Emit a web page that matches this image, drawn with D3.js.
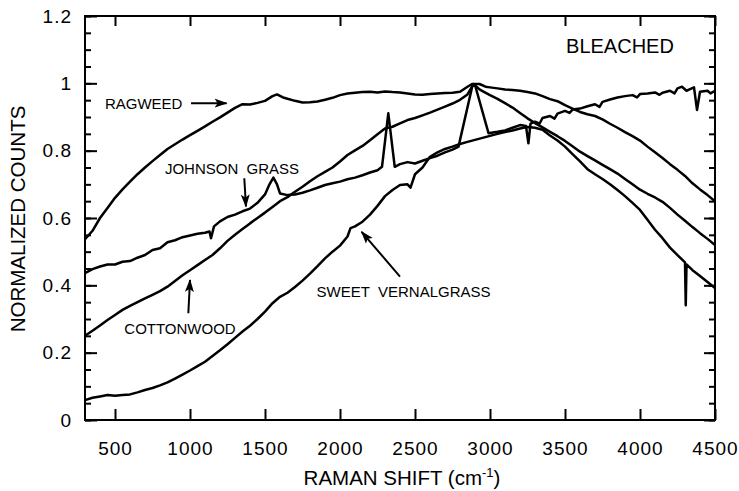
<!DOCTYPE html>
<html><head><meta charset="utf-8">
<script src="https://cdn.jsdelivr.net/npm/d3@7"></script>
<style>
html,body{margin:0;padding:0;background:#fff;}
svg{display:block;font-family:"Liberation Sans",Arial,Helvetica,sans-serif;}
</style></head>
<body><svg id="chart" width="739" height="491"></svg>
<script>
// ---- data (Raman shift in cm-1, normalized counts) ----
const xTicks = [500,1000,1500,2000,2500,3000,3500,4000,4500];
const yTicks = [0,0.2,0.4,0.6,0.8,1,1.2];
const yTickLabels = ["0","0.2","0.4","0.6","0.8","1","1.2"];

const ragweed = [
[300,0.537],[350,0.562],[400,0.600],[450,0.630],[500,0.660],[550,0.685],[600,0.708],[650,0.730],[700,0.750],[750,0.769],
[800,0.787],[850,0.805],[900,0.819],[950,0.833],[1000,0.846],[1050,0.859],[1100,0.872],[1150,0.886],[1200,0.899],[1250,0.913],
[1300,0.927],[1350,0.938],[1400,0.937],[1450,0.942],[1500,0.948],[1550,0.962],[1580,0.967],[1620,0.958],[1650,0.954],[1700,0.948],
[1750,0.943],[1800,0.944],[1850,0.946],[1900,0.951],[1950,0.957],[2000,0.965],[2050,0.970],[2100,0.972],[2150,0.974],[2200,0.975],
[2250,0.973],[2300,0.976],[2350,0.974],[2400,0.973],[2450,0.970],[2500,0.967],[2550,0.966],[2600,0.968],[2650,0.970],[2700,0.971],
[2750,0.972],[2800,0.975],[2850,0.990],[2880,0.998],[2930,0.998],[2970,0.990],[3000,0.988],[3050,0.985],[3100,0.982],[3150,0.980],
[3200,0.978],[3250,0.974],[3300,0.970],[3350,0.962],[3400,0.953],[3450,0.947],[3500,0.935],[3550,0.925],[3600,0.915],[3650,0.908],
[3700,0.903],[3750,0.893],[3800,0.880],[3850,0.868],[3900,0.855],[3950,0.843],[4000,0.830],[4050,0.812],[4100,0.795],[4150,0.778],
[4200,0.760],[4250,0.743],[4300,0.725],[4350,0.703],[4400,0.685],[4450,0.668],[4500,0.650]
];

const cottonwood = [
[300,0.250],[350,0.265],[400,0.281],[450,0.297],[500,0.312],[550,0.327],[600,0.339],[650,0.350],[700,0.361],[750,0.372],
[800,0.383],[850,0.396],[900,0.413],[950,0.430],[1000,0.445],[1050,0.460],[1100,0.475],[1150,0.490],[1200,0.510],[1250,0.532],
[1300,0.550],[1350,0.567],[1400,0.584],[1450,0.600],[1500,0.616],[1550,0.633],[1600,0.650],[1650,0.662],[1700,0.678],[1750,0.693],
[1800,0.709],[1850,0.724],[1900,0.737],[1950,0.750],[2000,0.768],[2050,0.787],[2100,0.801],[2150,0.814],[2200,0.831],[2250,0.849],
[2300,0.866],[2350,0.871],[2400,0.881],[2450,0.891],[2500,0.897],[2550,0.905],[2600,0.913],[2650,0.922],[2700,0.931],[2750,0.940],
[2800,0.951],[2850,0.967],[2890,0.998],[2930,0.982],[2950,0.977],[3000,0.965],[3050,0.954],[3100,0.941],[3150,0.928],[3200,0.912],
[3250,0.896],[3300,0.882],[3350,0.869],[3400,0.856],[3450,0.843],[3500,0.829],[3550,0.813],[3600,0.797],[3650,0.784],[3700,0.771],
[3750,0.758],[3800,0.745],[3850,0.732],[3900,0.716],[3950,0.700],[4000,0.684],[4050,0.672],[4100,0.661],[4150,0.648],[4200,0.630],
[4250,0.610],[4300,0.592],[4350,0.573],[4400,0.555],[4450,0.538],[4500,0.520]
];

const johnsonGrass = [
[300,0.436],[350,0.448],[400,0.456],[450,0.462],[500,0.462],[550,0.470],[600,0.472],[650,0.482],[700,0.490],[750,0.505],
[800,0.510],[850,0.528],[900,0.534],[950,0.543],[1000,0.548],[1050,0.553],[1100,0.556],[1130,0.560],[1140,0.540],[1160,0.575],
[1200,0.590],[1250,0.603],[1300,0.610],[1350,0.620],[1400,0.628],[1450,0.645],[1500,0.670],[1530,0.700],[1556,0.720],[1580,0.700],
[1600,0.673],[1650,0.668],[1700,0.670],[1750,0.675],[1800,0.682],[1850,0.690],[1900,0.698],[1950,0.703],[2000,0.708],[2050,0.715],
[2100,0.720],[2150,0.727],[2200,0.735],[2250,0.742],[2280,0.752],[2322,0.911],[2365,0.752],[2400,0.760],[2450,0.766],[2500,0.762],
[2550,0.770],[2600,0.778],[2650,0.785],[2700,0.795],[2750,0.803],[2790,0.812],[2885,0.997],[2900,0.995],[2990,0.852],[3050,0.856],
[3100,0.860],[3150,0.868],[3200,0.876],[3240,0.873],[3256,0.822],[3270,0.880],[3300,0.886],[3330,0.880],[3350,0.897],[3400,0.903],
[3430,0.895],[3450,0.910],[3500,0.918],[3530,0.912],[3550,0.922],[3600,0.925],[3650,0.932],[3700,0.938],[3730,0.930],[3750,0.945],
[3800,0.952],[3850,0.958],[3900,0.962],[3950,0.965],[3980,0.958],[4000,0.968],[4050,0.970],[4100,0.973],[4130,0.966],[4150,0.972],
[4200,0.978],[4230,0.970],[4250,0.985],[4280,0.990],[4310,0.978],[4330,0.982],[4360,0.988],[4380,0.921],[4400,0.975],[4450,0.978],
[4470,0.970],[4500,0.978]
];

const sweetVernalgrass = [
[300,0.059],[350,0.066],[400,0.070],[450,0.074],[500,0.072],[550,0.074],[600,0.076],[650,0.082],[700,0.089],[750,0.095],
[800,0.103],[850,0.112],[900,0.123],[950,0.135],[1000,0.147],[1050,0.160],[1100,0.173],[1150,0.190],[1200,0.207],[1250,0.225],
[1300,0.244],[1350,0.263],[1400,0.280],[1450,0.300],[1500,0.322],[1550,0.347],[1600,0.366],[1650,0.378],[1700,0.395],[1750,0.414],
[1800,0.435],[1850,0.457],[1900,0.480],[1950,0.500],[2000,0.518],[2050,0.545],[2070,0.570],[2100,0.575],[2150,0.589],[2200,0.610],
[2250,0.636],[2300,0.665],[2350,0.683],[2400,0.698],[2450,0.700],[2470,0.690],[2500,0.730],[2550,0.750],[2600,0.782],[2650,0.795],
[2700,0.805],[2750,0.812],[2800,0.820],[2850,0.826],[2900,0.832],[2950,0.838],[3000,0.844],[3050,0.850],[3100,0.855],[3150,0.860],
[3200,0.866],[3250,0.870],[3300,0.868],[3350,0.862],[3400,0.845],[3450,0.830],[3500,0.812],[3550,0.790],[3600,0.768],[3650,0.745],
[3700,0.730],[3750,0.716],[3800,0.700],[3850,0.683],[3900,0.665],[3950,0.645],[4000,0.624],[4050,0.595],[4100,0.565],[4150,0.540],
[4200,0.512],[4250,0.490],[4300,0.468],[4305,0.341],[4310,0.462],[4350,0.445],[4400,0.428],[4450,0.410],[4500,0.392]
];

const seriesList = [ragweed, cottonwood, johnsonGrass, sweetVernalgrass];

// annotations in data coordinates
const labelTexts = ["RAGWEED","JOHNSON  GRASS","COTTONWOOD","SWEET  VERNALGRASS","BLEACHED"];
const labelX = [433, 833, 562, 1844, 3507];
const labelY = [0.924, 0.730, 0.255, 0.364, 1.091];
const labelSize = [15, 15, 15, 15, 20];
const arrowFrom = [[1007,0.941],[1362,0.718],[989,0.317],[2400,0.426]];
const arrowTo   = [[1244,0.941],[1373,0.634],[1000,0.416],[2144,0.559]];

// ---- drawing ----
const svg = d3.select("#chart");
const L = 85, R = 715, T = 16, B = 420;
const x = d3.scaleLinear().domain([300,4500]).range([L,R]);
const y = d3.scaleLinear().domain([0,1.2]).range([B,T]);

svg.append("rect").attr("width",739).attr("height",491).attr("fill","#fff");

const defs = svg.append("defs");
defs.append("marker").attr("id","ah").attr("viewBox","0 -5 13 10")
  .attr("refX",12).attr("refY",0).attr("markerWidth",13).attr("markerHeight",10)
  .attr("markerUnits","userSpaceOnUse").attr("orient","auto")
  .append("path").attr("d","M0,-4.5L13,0L0,4.5L3,0Z").attr("fill","#000");

const minorY = d3.range(0, 1.2001, 0.05);

// bottom axis
const gB = svg.append("g").attr("transform",`translate(0,${B})`)
  .call(d3.axisBottom(x).tickValues(xTicks).tickSizeInner(-11).tickSizeOuter(0).tickPadding(22).tickFormat(d3.format("d")));
// top axis
const gT = svg.append("g").attr("transform",`translate(0,${T})`)
  .call(d3.axisTop(x).tickValues(xTicks).tickSizeInner(-10).tickSizeOuter(0).tickFormat(""));
// left axis
const gL = svg.append("g").attr("transform",`translate(${L},0)`)
  .call(d3.axisLeft(y).tickValues(yTicks).tickSizeInner(-12).tickSizeOuter(0).tickPadding(13)
        .tickFormat((d,i)=>yTickLabels[i]));
const gLm = svg.append("g").attr("transform",`translate(${L},0)`)
  .call(d3.axisLeft(y).tickValues(minorY).tickSizeInner(-6).tickSizeOuter(0).tickFormat(""));
// right axis
const gR = svg.append("g").attr("transform",`translate(${R},0)`)
  .call(d3.axisRight(y).tickValues(yTicks).tickSizeInner(-11).tickSizeOuter(0).tickFormat(""));
const gRm = svg.append("g").attr("transform",`translate(${R},0)`)
  .call(d3.axisRight(y).tickValues(minorY).tickSizeInner(-6).tickSizeOuter(0).tickFormat(""));

[gB,gT,gL,gLm,gR,gRm].forEach(g=>{
  g.select(".domain").remove();
  g.selectAll(".tick line").attr("stroke","#000").attr("stroke-width",2);
  g.selectAll("text").attr("fill","#000").attr("font-size",19)
   .attr("font-family","'Liberation Sans',Arial,sans-serif").style("letter-spacing","1px");
});

// frame
svg.append("rect").attr("x",L).attr("y",T).attr("width",R-L).attr("height",B-T)
  .attr("fill","none").attr("stroke","#000").attr("stroke-width",2);

// curves
const line = d3.line().x(d=>x(d[0])).y(d=>y(d[1]));
svg.append("g").selectAll("path").data(seriesList).join("path")
  .attr("d",line).attr("fill","none").attr("stroke","#000")
  .attr("stroke-width",2.5).attr("stroke-linejoin","round");

// labels
svg.append("g").selectAll("text").data(labelTexts).join("text")
  .attr("x",(d,i)=>x(labelX[i])).attr("y",(d,i)=>y(labelY[i]))
  .attr("font-size",(d,i)=>labelSize[i]).attr("fill","#000")
  .attr("xml:space","preserve").style("white-space","pre")
  .text(d=>d);

// arrows
svg.append("g").selectAll("line").data(arrowFrom).join("line")
  .attr("x1",d=>x(d[0])).attr("y1",d=>y(d[1]))
  .attr("x2",(d,i)=>x(arrowTo[i][0])).attr("y2",(d,i)=>y(arrowTo[i][1]))
  .attr("stroke","#000").attr("stroke-width",2).attr("marker-end","url(#ah)");

// axis titles
const xt = svg.append("text").attr("x",(L+R)/2+2).attr("y",485).attr("text-anchor","middle")
  .attr("font-size",20.5).attr("fill","#000");
xt.append("tspan").text("RAMAN SHIFT (cm");
xt.append("tspan").attr("font-size",13).attr("dy",-8).text("-1");
xt.append("tspan").attr("dy",8).text(")");

svg.append("text").attr("transform",`translate(25,${(T+B)/2+1}) rotate(-90)`)
  .attr("text-anchor","middle").attr("font-size",20.5).attr("fill","#000")
  .text("NORMALIZED COUNTS");
</script></body></html>
